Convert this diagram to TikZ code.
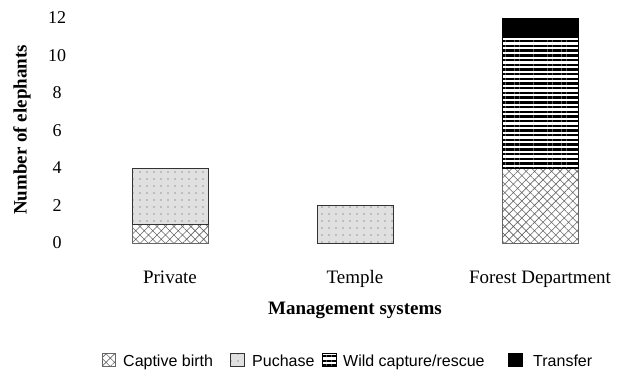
\documentclass[tikz,border=0pt]{standalone}
\usepackage{fontspec}
\setmainfont{Liberation Serif}
\newfontfamily\legfont{Liberation Sans}
\usepackage{tikz}
\usetikzlibrary{patterns.meta,positioning}
\tikzset{
  ticklab/.style={ font=\fontsize{18}{20}\selectfont, inner sep=0pt }
}
\tikzset{
  catlab/.style={ font=\fontsize{19}{22}\selectfont, inner sep=0pt, anchor=base }
}
\tikzset{
  axlab/.style={ font=\fontsize{19}{22}\selectfont\bfseries, inner sep=0pt }
}
\tikzset{
  leglab/.style={ font=\legfont\fontsize{16}{18}\selectfont, inner sep=0pt, anchor=base west }
}
\tikzset{
  birth/.style={ draw=black!60, line width=0.6pt, fill=white, postaction={pattern={Hatch[angle=45,distance=6pt,line width=0.6pt]}, pattern color=black!60} }
}
\tikzset{
  purchase/.style={ draw=black!80, line width=0.8pt, fill=black!12, postaction={pattern={Dots[distance=7pt,radius=0.6pt]}, pattern color=black!70} }
}
\tikzset{
  wild/.style={ draw=black, line width=0.6pt, fill=white, postaction={pattern={Lines[angle=0,distance=4.7pt,line width=2.4pt]}, pattern color=black} }
}
\tikzset{
  transfer/.style={ draw=black, fill=black }
}
\begin{document}
\begin{tikzpicture}[y=1pt, x=1pt]
      \useasboundingbox (0,0) rectangle (629,375);
      % y axis ticks
      \foreach \v in {0,2,...,12} {
        \node[ticklab] (tick\v) at (57, 132+18.75*\v) {\v};
      }
      \node[axlab, rotate=90] (ytitle) at (22, 245) {Number of elephants};

      % Private
      \draw[birth] (132,132) rectangle (208,150.75);
      \draw[purchase] (132,150.75) rectangle (208,207);
      % Temple
      \draw[purchase] (317,132) rectangle (393,169.5);
      % Forest Department
      \draw[birth] (502,132) rectangle (578,207);
      \draw[wild] (502,207) rectangle (578,338.25);
      \draw[transfer] (502,338.25) rectangle (578,357);

      \node[catlab] (private) at (170, 92) {Private};
      \node[catlab] (temple) at (355, 92) {Temple};
      \node[catlab] (forest) at (540, 92) {Forest Department};
      \node[axlab, anchor=base] (xtitle) at (355, 61) {Management systems};

      % legend
      \draw[birth] (102,9) rectangle (115,22);
      \node[leglab] (lbirth) at (123, 9) {Captive birth};
      \draw[purchase] (230,9) rectangle (244,22);
      \node[leglab] (lpurchase) at (252, 9) {Puchase};
      \draw[wild, line width=0.8pt] (322,9) rectangle (336,22);
      \node[leglab] (lwild) at (343, 9) {Wild capture/rescue};
      \draw[transfer] (508,9) rectangle (522,22);
      \node[leglab] (ltransfer) at (533, 9) {Transfer};
    \end{tikzpicture}
\end{document}
